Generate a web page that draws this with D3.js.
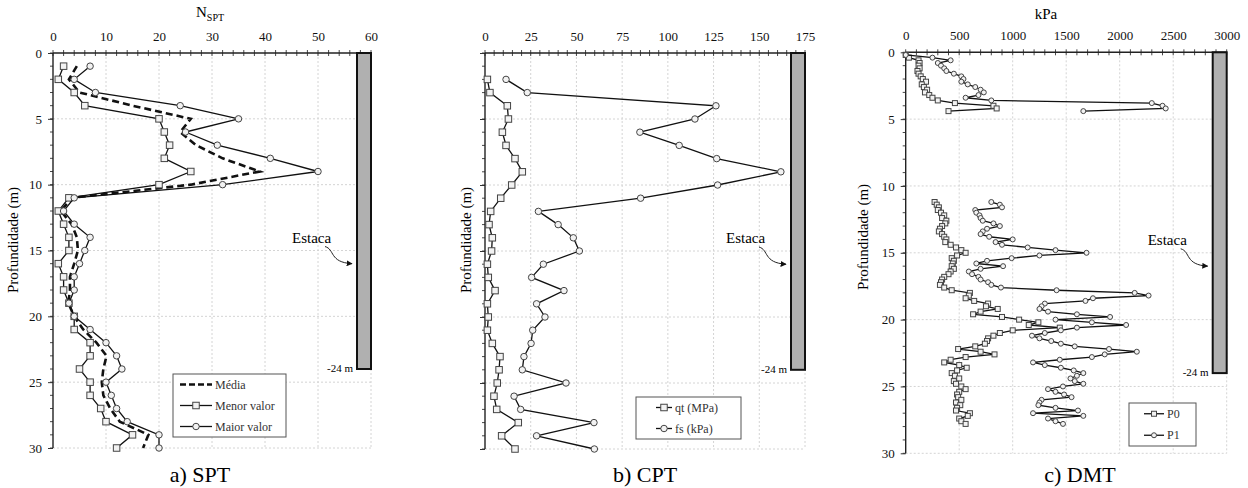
<!DOCTYPE html>
<html>
<head>
<meta charset="utf-8">
<script src="https://cdn.jsdelivr.net/npm/d3@7"></script>
<style>
    body { margin: 0; background: #fff; }
    svg { display: block; }
    svg text { font-family: "Liberation Serif", "DejaVu Serif", serif; }
</style>
</head>
<body>
<svg id="chart" width="1248" height="488"></svg>
<script>
"use strict";

// ---- data ----
const depthTicks = [0, 5, 10, 15, 20, 25, 30];
const sptTicks = [0, 10, 20, 30, 40, 50, 60];
const cptTicks = [0, 25, 50, 75, 100, 125, 150, 175];
const dmtTicks = [0, 500, 1000, 1500, 2000, 2500, 3000];

const sptDepth = [1, 2, 3, 4, 5, 6, 7, 8, 9, 10, 11, 12, 13, 14, 15, 16, 17, 18, 19, 20, 21, 22, 23, 24, 25, 26, 27, 28, 29, 30];
const sptMean = [4.5, 3, 5, 15, 26, 24, 27, 32, 39, 26, 3.5, 1.5, 3.5, 4.5, 4.7, 4, 3.2, 3.2, 2.9, 4, 5.7, 8.2, 10.1, 9.5, 9.2, 9.5, 10.8, 12.6, 18, 17];
const sptMin = [2, 1, 4, 6, 20, 21, 22, 21, 26, 20, 3, 1, 2, 3, 3, 1, 2, 2, 3, 4, 4, 7, 7, 5, 7, 7, 9, 10, 15, 12];
const sptMax = [7, 4, 8, 24, 35, 25, 31, 41, 50, 32, 4, 2, 4, 7, 6, 5, 4, 4, 3, 4, 7, 10, 12, 13, 10, 11, 12, 14, 20, 20];

const cptDepth = [2, 3, 4, 5, 6, 7, 8, 9, 10, 11, 12, 13, 14, 15, 16, 17, 18, 19, 20, 21, 22, 23, 24, 25, 26, 27, 28, 29, 30];
const cptQt = [1.3, 2.7, 12.2, 12.8, 9.5, 11.5, 16.4, 20.4, 14.6, 8.6, 3.1, 2.2, 4, 3.6, 1.3, 1.8, 5.5, 1.3, 1.8, 1.3, 4, 8.2, 7.7, 6.7, 4.9, 6.4, 18.2, 9.1, 16.4];
const cptFs = [11.5, 23.1, 126.3, 114.8, 84.7, 106.2, 126.7, 161.8, 127.2, 85.1, 29.2, 40, 48.3, 51.6, 31.9, 25.5, 43.2, 28.2, 32.8, 26.1, 25.2, 21.3, 20.4, 44.3, 15.9, 19.5, 59.6, 28.2, 59.8];

const dmtDepthTop = [0.2, 0.4, 0.6, 0.8, 1.0, 1.2, 1.4, 1.6, 1.8, 2.0, 2.2, 2.4, 2.6, 2.8, 3.0, 3.2, 3.4, 3.6, 3.8, 4.0, 4.2, 4.4];
const dmtP0Top = [0, 30, 120, 130, 120, 130, 110, 120, 140, 160, 190, 150, 170, 200, 180, 220, 250, 300, 460, 820, 850, 400];
const dmtP1Top = [0, 250, 420, 300, 330, 360, 380, 450, 520, 540, 520, 580, 650, 700, 730, 680, 560, 800, 2300, 2400, 2430, 1660];

const dmtDepthBottom = [
    11.2, 11.4, 11.6, 11.8, 12.0, 12.2, 12.4, 12.6, 12.8, 13.0,
    13.2, 13.4, 13.6, 13.8, 14.0, 14.2, 14.4, 14.6, 14.8, 15.0,
    15.2, 15.4, 15.6, 15.8, 16.0, 16.2, 16.4, 16.6, 16.8, 17.0,
    17.2, 17.4, 17.6, 17.8, 18.0, 18.2, 18.4, 18.6, 18.8, 19.0,
    19.2, 19.4, 19.6, 19.8, 20.0, 20.2, 20.4, 20.6, 20.8, 21.0,
    21.2, 21.4, 21.6, 21.8, 22.0, 22.2, 22.4, 22.6, 22.8, 23.0,
    23.2, 23.4, 23.6, 23.8, 24.0, 24.2, 24.4, 24.6, 24.8, 25.0,
    25.2, 25.4, 25.6, 25.8, 26.0, 26.2, 26.4, 26.6, 26.8, 27.0,
    27.2, 27.4, 27.6, 27.8
];
const dmtP0Bottom = [
    270, 290, 310, 300, 330, 360, 340, 380, 370, 340,
    320, 310, 340, 360, 380, 370, 420, 470, 520, 560,
    480, 430, 450, 440, 430, 450, 420, 400, 360, 340,
    330, 320, 360, 430, 600, 590, 560, 640, 770, 750,
    860, 700, 630, 900, 1060, 1240, 1150, 1440, 1000, 880,
    820, 770, 760, 740, 650, 490, 700, 830, 560, 420,
    360, 500, 570, 480, 430, 460, 500, 450, 470, 520,
    560, 500, 480, 490, 520, 470, 510, 480, 470, 600,
    580, 500, 520, 560
];
const dmtP1Bottom = [
    800, 880, 900, 650, 660, 690, 700, 720, 820, 880,
    760, 720, 700, 780, 1000, 840, 900, 1140, 1400, 1690,
    1250, 990, 760, 660, 910, 700, 590, 620, 680, 700,
    770, 800, 890, 1410, 2140, 2270, 1750, 1680, 1300, 1270,
    1250, 1330, 1600, 1910, 1400, 1740, 2060, 1600, 1450, 1300,
    1180, 1250, 1360, 1450, 1580, 1900, 2160, 1860, 1740, 1440,
    1190, 1300, 1450, 1570, 1660, 1600, 1540, 1580, 1660, 1470,
    1330, 1400, 1480, 1550, 1270, 1250, 1240, 1400, 1610, 1190,
    1660, 1330, 1400, 1470
];

const PILE_DEPTH = 24;
const PILE_WIDTH = 14;
const FONT = "Liberation Serif, DejaVu Serif, serif";

const svg = d3.select("#chart").attr("font-family", FONT);

svg.append("defs")
    .append("marker")
    .attr("id", "arrow-head")
    .attr("viewBox", "0 0 10 10")
    .attr("refX", 9)
    .attr("refY", 5)
    .attr("markerWidth", 6)
    .attr("markerHeight", 6)
    .attr("orient", "auto")
    .append("path")
    .attr("d", "M0,0 L10,5 L0,10 z")
    .attr("fill", "#111");

renderPanel({
    left: 53, right: 371, top: 53, bottom: 448,
    xTicks: sptTicks, xMinor: 2,
    yTitleX: 18, yTitleY: 240, yLabels: true,
    caption: "a) SPT", captionX: 200,
    series: [
        { x: sptMean, y: sptDepth, dashed: true },
        { x: sptMin, y: sptDepth, marker: "square" },
        { x: sptMax, y: sptDepth, marker: "circle" }
    ],
    legend: {
        x: 173, y: 374, width: 113, height: 63, sample: 32,
        items: [
            { label: "Média", dashed: true },
            { label: "Menor valor", marker: "square" },
            { label: "Maior valor", marker: "circle" }
        ]
    }
});

renderPanel({
    left: 485, right: 805, top: 53, bottom: 449,
    xTicks: cptTicks, xMinor: 5,
    yTitleX: 471, yTitleY: 240, yLabels: false,
    caption: "b) CPT", captionX: 645,
    series: [
        { x: cptQt, y: cptDepth, marker: "square" },
        { x: cptFs, y: cptDepth, marker: "circle" }
    ],
    legend: {
        x: 636, y: 397, width: 105, height: 42, sample: 16, indent: 20,
        items: [
            { label: "qt (MPa)", marker: "square" },
            { label: "fs (kPa)", marker: "circle" }
        ]
    }
});

renderPanel({
    left: 905.7, right: 1226.7, top: 52.3, bottom: 453.3,
    xTicks: dmtTicks, xMinor: 100,
    yTitleX: 868, yTitleY: 237, yLabels: true,
    caption: "c) DMT", captionX: 1080,
    small: true,
    series: [
        { x: dmtP0Top, y: dmtDepthTop, marker: "square" },
        { x: dmtP1Top, y: dmtDepthTop, marker: "circle" },
        { x: dmtP0Bottom, y: dmtDepthBottom, marker: "square" },
        { x: dmtP1Bottom, y: dmtDepthBottom, marker: "circle" }
    ],
    legend: {
        x: 1129, y: 403, width: 67, height: 43, sample: 20, indent: 15,
        items: [
            { label: "P0", marker: "square" },
            { label: "P1", marker: "circle" }
        ]
    }
});

// axis titles on top
const nspt = svg.append("text")
    .attr("x", 196)
    .attr("y", 17)
    .attr("font-size", 15);
nspt.append("tspan").text("N");
nspt.append("tspan").attr("font-size", 10).attr("dy", 4).text("SPT");

svg.append("text")
    .attr("x", 1046)
    .attr("y", 19)
    .attr("text-anchor", "middle")
    .attr("font-size", 15)
    .text("kPa");

function renderPanel(cfg) {
    const xMax = cfg.xTicks[cfg.xTicks.length - 1];
    const x = d3.scaleLinear().domain([0, xMax]).range([cfg.left, cfg.right]);
    const y = d3.scaleLinear().domain([0, 30]).range([cfg.top, cfg.bottom]);

    const g = svg.append("g");

    // dotted grid
    g.selectAll(".vgrid")
        .data(cfg.xTicks.slice(1))
        .enter()
        .append("line")
        .attr("x1", d => x(d))
        .attr("x2", d => x(d))
        .attr("y1", cfg.top)
        .attr("y2", cfg.bottom)
        .attr("stroke", "#d4d4d4")
        .attr("stroke-dasharray", "2,2");

    g.selectAll(".hgrid")
        .data(depthTicks.slice(1))
        .enter()
        .append("line")
        .attr("x1", cfg.left)
        .attr("x2", cfg.right)
        .attr("y1", d => y(d))
        .attr("y2", d => y(d))
        .attr("stroke", "#d4d4d4")
        .attr("stroke-dasharray", "2,2");

    // top axis: labels + crossing ticks
    const topAxis = g.append("g")
        .attr("transform", `translate(0,${cfg.top})`)
        .call(d3.axisTop(x).tickValues(cfg.xTicks).tickFormat(d3.format("d")).tickSize(0).tickPadding(12));
    topAxis.attr("font-family", FONT).attr("font-size", 13);
    topAxis.select(".domain").remove();
    topAxis.selectAll("text").attr("fill", "#111");

    g.selectAll(".xminor")
        .data(d3.range(0, xMax + cfg.xMinor / 2, cfg.xMinor))
        .enter()
        .append("line")
        .attr("x1", d => x(d))
        .attr("x2", d => x(d))
        .attr("y1", cfg.top - 3)
        .attr("y2", cfg.top + 3)
        .attr("stroke", "#333")
        .attr("stroke-width", 0.9);

    // left axis (panel b shows ticks only)
    const leftAxis = g.append("g")
        .attr("transform", `translate(${cfg.left},0)`)
        .call(d3.axisLeft(y)
            .tickValues(depthTicks)
            .tickSize(5)
            .tickPadding(6)
            .tickFormat(cfg.yLabels ? d3.format("d") : () => ""));
    leftAxis.attr("font-family", FONT).attr("font-size", 13);
    leftAxis.select(".domain").remove();
    leftAxis.selectAll("line").attr("stroke", "#333");
    leftAxis.selectAll("text").attr("fill", "#111");

    g.selectAll(".yminor")
        .data(d3.range(0, 31, 1))
        .enter()
        .append("line")
        .attr("x1", cfg.left - 3)
        .attr("x2", cfg.left)
        .attr("y1", d => y(d))
        .attr("y2", d => y(d))
        .attr("stroke", "#333")
        .attr("stroke-width", 0.9);

    g.append("line")
        .attr("x1", cfg.left)
        .attr("x2", cfg.right)
        .attr("y1", cfg.top)
        .attr("y2", cfg.top)
        .attr("stroke", "#222")
        .attr("stroke-width", 1.4);

    g.append("line")
        .attr("x1", cfg.left)
        .attr("x2", cfg.left)
        .attr("y1", cfg.top)
        .attr("y2", cfg.bottom)
        .attr("stroke", "#222")
        .attr("stroke-width", 1.4);

    g.append("text")
        .attr("transform", `translate(${cfg.yTitleX},${cfg.yTitleY}) rotate(-90)`)
        .attr("text-anchor", "middle")
        .attr("font-size", 15)
        .text("Profundidade (m)");

    // pile ("Estaca")
    const pileLeft = cfg.right - PILE_WIDTH;
    g.append("rect")
        .attr("x", pileLeft)
        .attr("y", y(0))
        .attr("width", PILE_WIDTH)
        .attr("height", y(PILE_DEPTH) - y(0))
        .attr("fill", "#b0b0b0")
        .attr("stroke", "#111")
        .attr("stroke-width", 2);

    g.append("text")
        .attr("x", pileLeft - 4)
        .attr("y", y(PILE_DEPTH) + 3)
        .attr("text-anchor", "end")
        .attr("font-size", 11)
        .text("-24 m");

    g.append("text")
        .attr("x", pileLeft - 65)
        .attr("y", y(14.4))
        .attr("font-size", 15)
        .text("Estaca");

    g.append("path")
        .attr("d", `M${pileLeft - 32},${y(14.7)} C${pileLeft - 22},${y(14.9)} ${pileLeft - 28},${y(15.9)} ${pileLeft - 5},${y(16)}`)
        .attr("fill", "none")
        .attr("stroke", "#222")
        .attr("stroke-width", 1)
        .attr("marker-end", "url(#arrow-head)");

    // series
    const line = d3.line()
        .x(d => x(d[0]))
        .y(d => y(d[1]));

    cfg.series.forEach(s => {
        const points = d3.zip(s.x, s.y);
        g.append("path")
            .datum(points)
            .attr("d", line)
            .attr("fill", "none")
            .attr("stroke", "#111")
            .attr("stroke-width", s.dashed ? 2.6 : 1.3)
            .attr("stroke-dasharray", s.dashed ? "7,4" : null);

        if (s.marker) {
            drawMarkers(g, points.map(p => [x(p[0]), y(p[1])]), s.marker, cfg.small);
        }
    });

    renderLegend(g, cfg.legend, cfg.small);

    svg.append("text")
        .attr("x", cfg.captionX)
        .attr("y", 482)
        .attr("text-anchor", "middle")
        .attr("font-size", 22)
        .text(cfg.caption);
}

function drawMarkers(container, points, kind, small) {
    const size = small ? 5 : 6.5;
    if (kind === "square") {
        container.selectAll(null)
            .data(points)
            .enter()
            .append("rect")
            .attr("x", d => d[0] - size / 2)
            .attr("y", d => d[1] - size / 2)
            .attr("width", size)
            .attr("height", size)
            .attr("fill", "#f2f2f2")
            .attr("stroke", "#444")
            .attr("stroke-width", 1);
    } else {
        container.selectAll(null)
            .data(points)
            .enter()
            .append("circle")
            .attr("cx", d => d[0])
            .attr("cy", d => d[1])
            .attr("r", size / 2)
            .attr("fill", "#f2f2f2")
            .attr("stroke", "#444")
            .attr("stroke-width", 1);
    }
}

function renderLegend(container, legend, small) {
    container.append("rect")
        .attr("x", legend.x)
        .attr("y", legend.y)
        .attr("width", legend.width)
        .attr("height", legend.height)
        .attr("fill", "#fff")
        .attr("stroke", "#555")
        .attr("stroke-width", 1);

    const rowHeight = legend.height / legend.items.length;
    const indent = legend.indent || 7;

    legend.items.forEach((item, i) => {
        const cy = legend.y + rowHeight * (i + 0.5);
        const x0 = legend.x + indent;
        container.append("line")
            .attr("x1", x0)
            .attr("x2", x0 + legend.sample)
            .attr("y1", cy)
            .attr("y2", cy)
            .attr("stroke", "#111")
            .attr("stroke-width", item.dashed ? 2.4 : 1.3)
            .attr("stroke-dasharray", item.dashed ? "6,3" : null);
        if (item.marker) {
            drawMarkers(container, [[x0 + legend.sample / 2, cy]], item.marker, small);
        }
        container.append("text")
            .attr("x", x0 + legend.sample + 3)
            .attr("y", cy + 4)
            .attr("font-size", 12)
            .attr("fill", "#333")
            .text(item.label);
    });
}
</script>
</body>
</html>
